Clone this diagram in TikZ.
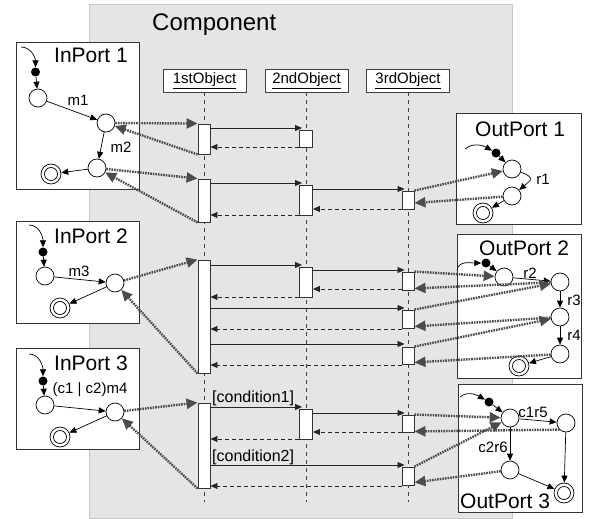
\documentclass[tikz,border=0pt]{standalone}
\usepackage{fontspec}
\setmainfont{Liberation Sans}
\usetikzlibrary{arrows.meta}
\begin{document}
\begin{tikzpicture}[x=1pt,y=-1pt,
  comp/.style={draw=black!22, fill=black!10, line width=0.8pt, inner sep=0},
  port/.style={draw=black!80, fill=white, line width=0.9pt, inner sep=0},
  head/.style={draw=black!75, fill=white, line width=0.8pt, minimum width=83pt, minimum height=23pt, inner sep=0, font=\fontsize{15}{15}\selectfont},
  life/.style={draw=black!75, line width=0.8pt, dash pattern=on 4pt off 4pt},
  act/.style={draw=black!80, fill=white, line width=0.9pt, minimum width=12pt, inner sep=0},
  msg/.style={draw=black!85, line width=0.8pt, -{Triangle[length=7pt,width=6pt]}, shorten >=-3pt},
  ret/.style={draw=black!85, line width=0.8pt, dash pattern=on 4pt off 3pt, -{Triangle[length=7pt,width=6pt]}},
  st/.style={circle, draw=black, fill=white, line width=0.7pt, minimum size=18pt, inner sep=0},
  fin/.style={st, minimum size=20pt, path picture={\draw[line width=0.7pt] (path picture bounding box.center) circle (6.5pt);}},
  ini/.style={circle, fill=black, minimum size=9pt, inner sep=0},
  tr/.style={draw=black, line width=0.7pt, -{Triangle[length=7pt,width=6pt]}},
  pl/.style={draw=black!70, line width=2.4pt, dash pattern=on 1.6pt off 1pt, -{Triangle[length=11pt,width=10pt]}},
  ptitle/.style={anchor=base west, inner sep=0, font=\fontsize{21}{21}\selectfont},
  lab/.style={inner sep=0, font=\fontsize{15}{15}\selectfont}
]
\useasboundingbox (0,0) rectangle (589,519);
% component background
\node[comp, minimum width=423pt, minimum height=514pt] (comp) at (300.5,261) {};
\node[anchor=base west, inner sep=0, font=\fontsize{24}{24}\selectfont] (ctitle) at (152,31) {Component};

% lifeline heads
\node[head] (h1) at (204.5,80.5) {\underline{1stObject}};
\node[head] (h2) at (306.5,80.5) {\underline{2ndObject}};
\node[head] (h3) at (408,80.5) {\underline{3rdObject}};
\coordinate (e1) at (204,502);
\coordinate (e2) at (306,502);
\coordinate (e3) at (408,502);
\draw[life] (h1.south -| e1) -- (e1);
\draw[life] (h2.south -| e2) -- (e2);
\draw[life] (h3.south -| e3) -- (e3);

% activations
\node[act, minimum height=30pt] (a1) at (204,139) {};
\node[act, minimum height=43pt] (a2) at (204,200.5) {};
\node[act, minimum height=113pt] (a3) at (204,316.5) {};
\node[act, minimum height=85pt] (a4) at (204,445.5) {};
\node[act, minimum width=13pt, minimum height=17pt] (b1) at (306,138.5) {};
\node[act, minimum width=13pt, minimum height=30pt] (b2) at (306,200) {};
\node[act, minimum width=13pt, minimum height=30pt] (b3) at (306,282) {};
\node[act, minimum width=13pt, minimum height=30pt] (b4) at (306,424) {};
\node[act, minimum height=18pt] (c1) at (408,200) {};
\node[act, minimum height=18pt] (c2) at (408,281) {};
\node[act, minimum height=18pt] (c3) at (408,319) {};
\node[act, minimum height=17pt] (c4) at (408,355.5) {};
\node[act, minimum height=17pt] (c5) at (408,423.5) {};
\node[act, minimum height=18pt] (c6) at (408,476) {};

% messages
\draw[msg] (a1.east |- 0,128) -- (b1.west |- 0,128);
\draw[ret] (b1.west |- 0,147) -- (a1.east |- 0,147);
\draw[msg] (a2.east |- 0,183) -- (b2.west |- 0,183);
\draw[msg] (b2.east |- 0,189) -- (c1.west |- 0,189);
\draw[ret] (c1.west |- 0,209) -- (b2.east |- 0,209);
\draw[ret] (b2.west |- 0,215) -- (a2.east |- 0,215);
\draw[msg] (a3.east |- 0,265) -- (b3.west |- 0,265);
\draw[msg] (b3.east |- 0,270) -- (c2.west |- 0,270);
\draw[ret] (c2.west |- 0,289) -- (b3.east |- 0,289);
\draw[ret] (b3.west |- 0,297) -- (a3.east |- 0,297);
\draw[msg] (a3.east |- 0,308) -- (c3.west |- 0,308);
\draw[ret] (c3.west |- 0,329) -- (a3.east |- 0,329);
\draw[msg] (a3.east |- 0,344) -- (c4.west |- 0,344);
\draw[ret] (c4.west |- 0,365) -- (a3.east |- 0,365);
\draw[msg] (a4.east |- 0,407) -- (b4.west |- 0,407);
\node[lab, anchor=base west, font=\fontsize{16}{16}\selectfont] (cond1) at (212,402) {[condition1]};
\draw[msg] (b4.east |- 0,413) -- (c5.west |- 0,413);
\draw[ret] (c5.west |- 0,432) -- (b4.east |- 0,432);
\draw[ret] (b4.west |- 0,439) -- (a4.east |- 0,439);
\draw[msg] (a4.east |- 0,465) -- (c6.west |- 0,465);
\node[lab, anchor=base west, font=\fontsize{16}{16}\selectfont] (cond2) at (212,461) {[condition2]};
\draw[ret] (c6.west |- 0,486) -- (a4.east |- 0,486);

% port boxes
\node[port, minimum width=123pt, minimum height=147pt] (ip1) at (77.5,115.5) {};
\node[port, minimum width=123pt, minimum height=102pt] (ip2) at (77.5,272) {};
\node[port, minimum width=123pt, minimum height=101pt] (ip3) at (77.5,398.5) {};
\node[port, minimum width=125pt, minimum height=111pt] (op1) at (518.5,168.5) {};
\node[port, minimum width=124pt, minimum height=144pt] (op2) at (519,306) {};
\node[port, minimum width=124pt, minimum height=128pt] (op3) at (520,448) {};
\node[ptitle] (tip1) at (54,63) {InPort 1};
\node[ptitle] (tip2) at (54,243) {InPort 2};
\node[ptitle] (tip3) at (54,370) {InPort 3};
\node[ptitle] (top1) at (475,136) {OutPort 1};
\node[ptitle] (top2) at (479,255) {OutPort 2};
\node[ptitle] (top3) at (460,508) {OutPort 3};

% InPort 1
\coordinate (i1c) at (21,47);
\node[ini] (i1d) at (35.5,72) {};
\node[st] (i1s1) at (38,98) {};
\node[st] (i1s2) at (106,123) {};
\node[st] (i1s3) at (97,168) {};
\node[fin] (i1f) at (51,174) {};
\draw[tr] (i1c) to[out=0,in=90] (i1d);
\draw[tr] (i1d) -- (i1s1);
\draw[tr] (i1s1) -- (i1s2);
\draw[tr] (i1s2) -- (i1s3);
\draw[tr] (i1s3) -- (i1f);
\node[lab] (lm1) at (78,100) {m1};
\node[lab] (lm2) at (121,147) {m2};

% InPort 2
\coordinate (i2c) at (29,225);
\node[ini] (i2d) at (43,252) {};
\node[st] (i2s1) at (45,276) {};
\node[st] (i2s2) at (115,283) {};
\node[fin] (i2f) at (60,308) {};
\draw[tr] (i2c) to[out=0,in=90] (i2d);
\draw[tr] (i2d) -- (i2s1);
\draw[tr] (i2s1) -- (i2s2);
\draw[tr] (i2s2) -- (i2f);
\node[lab] (lm3) at (79,271) {m3};

% InPort 3
\coordinate (i3c) at (29,354);
\node[ini] (i3d) at (43,381) {};
\node[st] (i3s1) at (45,405) {};
\node[st] (i3s2) at (115,412) {};
\node[fin] (i3f) at (60,437) {};
\draw[tr] (i3c) to[out=0,in=90] (i3d);
\draw[tr] (i3d) -- (i3s1);
\draw[tr] (i3s1) -- (i3s2);
\draw[tr] (i3s2) -- (i3f);
\node[lab] (lm4) at (90,390) {(c1 | c2)m4};

% OutPort 1
\coordinate (o1c) at (465,149);
\node[ini] (o1d) at (496,153) {};
\node[st] (o1s1) at (512,169) {};
\node[st] (o1s2) at (512,196) {};
\node[fin] (o1f) at (483,213) {};
\draw[tr] (o1c) to[out=40,in=150] (o1d);
\draw[tr] (o1d) -- (o1s1);
\draw[tr] (o1s1) to[out=-20,in=40,looseness=2.2] (o1s2);
\draw[tr] (o1s2) -- (o1f);
\node[lab] (lr1) at (543,179) {r1};

% OutPort 2
\coordinate (o2c) at (457,270);
\node[ini] (o2d) at (486,263) {};
\node[st] (o2s1) at (504,277) {};
\node[st] (o2s2) at (560,282) {};
\node[st] (o2s3) at (560,317) {};
\node[st] (o2s4) at (560,354) {};
\node[fin] (o2f) at (519,366) {};
\draw[tr] (o2c) to[out=80,in=180] (o2d);
\draw[tr] (o2d) -- (o2s1);
\draw[tr] (o2s1) -- (o2s2);
\draw[tr] (o2s2) -- (o2s3);
\draw[tr] (o2s3) -- (o2s4);
\draw[tr] (o2s4) -- (o2f);
\node[lab] (lr2) at (530,273) {r2};
\node[lab] (lr3) at (574,300) {r3};
\node[lab] (lr4) at (574,335) {r4};

% OutPort 3
\coordinate (o3c) at (460,397);
\node[ini] (o3d) at (489,402) {};
\node[st] (o3s1) at (510,418) {};
\node[st] (o3s2) at (566,423) {};
\node[st] (o3s3) at (510,470) {};
\node[fin] (o3f) at (564,493) {};
\draw[tr] (o3c) to[out=40,in=150] (o3d);
\draw[tr] (o3d) -- (o3s1);
\draw[tr] (o3s1) -- (o3s2);
\draw[tr] (o3s1) -- (o3s3);
\draw[tr] (o3s2) -- (o3f);
\draw[tr] (o3s3) -- (o3f);
\node[lab] (lc1) at (533,412) {c1r5};
\node[lab] (lc2) at (493,447) {c2r6};

% port links
\draw[pl] (i1s2) -- (a1.north west);
\draw[pl] (a1.south west) -- (i1s2);
\draw[pl] (i1s3) -- (a2.north west);
\draw[pl] (a2.south west) -- (i1s3);
\draw[pl] (i2s2) -- (a3.north west);
\draw[pl] (a3.south west) -- (i2s2);
\draw[pl] (i3s2) -- (a4.north west);
\draw[pl] (a4.south west) -- (i3s2);

\draw[pl] (c1.north east) -- (o1s1);
\draw[pl] (o1s2) -- ([yshift=-3pt]c1.east);
\draw[pl] (c2.north east) -- (o2s1);
\draw[pl] (o2s2) -- ([yshift=2pt]c2.south east);
\draw[pl] (c3.north east) -- (o2s2);
\draw[pl] (o2s3) -- ([yshift=2pt]c3.south east);
\draw[pl] (c4.north east) -- (o2s3);
\draw[pl] (o2s4) -- ([yshift=2pt]c4.south east);
\draw[pl] (c5.north east) -- (o3s1);
\draw[pl] (o3s2.south west) -- ([yshift=1pt]c5.south east);
\draw[pl] (c6.north east) -- (o3s1);
\draw[pl] (o3s3) -- ([yshift=3pt]c6.south east);
\end{tikzpicture}
\end{document}
